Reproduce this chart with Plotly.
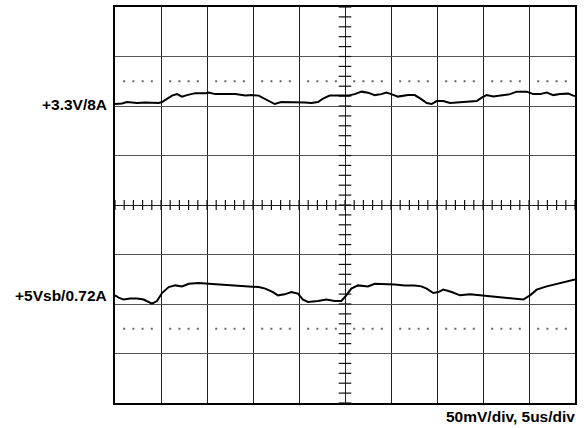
import numpy as np
import plotly.graph_objects as go

# Screen units: divisions (x: 5 us/div, y: 50 mV/div)
ch1_label = "+3.3V/8A"
ch1_x = [0.0, 0.152, 0.261, 0.370, 0.478, 0.659, 0.804, 0.950, 1.022, 1.130, 1.239, 1.348,
         1.457, 1.565, 1.746, 1.963, 2.037, 2.180, 2.398, 2.615, 2.833, 2.978, 3.124, 3.267,
         3.376, 3.472, 3.615, 3.761, 3.978, 4.124, 4.267, 4.413, 4.522, 4.667, 4.848, 5.065,
         5.211, 5.359, 5.500, 5.646, 5.789, 5.898, 6.007, 6.152, 6.370, 6.515, 6.659, 6.776,
         6.885, 6.993, 7.137, 7.283, 7.428, 7.646, 7.863, 7.972, 8.080, 8.224, 8.441, 8.587,
         8.733, 8.950, 9.093, 9.239, 9.385, 9.528, 9.674, 9.854, 9.963, 10.0]
ch1_y = [2.04, 2.05, 2.08, 2.07, 2.06, 2.07, 2.07, 2.06, 2.08, 2.14, 2.21, 2.24,
         2.19, 2.22, 2.26, 2.26, 2.27, 2.24, 2.24, 2.24, 2.21, 2.22, 2.21, 2.14,
         2.07, 2.04, 2.08, 2.08, 2.08, 2.07, 2.06, 2.08, 2.15, 2.21, 2.21, 2.21,
         2.24, 2.29, 2.27, 2.22, 2.24, 2.27, 2.24, 2.19, 2.22, 2.22, 2.14, 2.06,
         2.04, 2.10, 2.10, 2.06, 2.07, 2.08, 2.10, 2.17, 2.22, 2.19, 2.22, 2.24,
         2.29, 2.29, 2.24, 2.24, 2.27, 2.22, 2.24, 2.25, 2.21, 2.20]

ch2_label = "+5Vsb/0.72A"
ch2_x = [0.0, 0.080, 0.189, 0.333, 0.478, 0.624, 0.804, 0.913, 1.022, 1.167, 1.311, 1.457,
         1.602, 1.820, 2.037, 2.254, 2.472, 2.689, 2.907, 3.124, 3.267, 3.376, 3.435, 3.543,
         3.689, 3.833, 3.978, 4.087, 4.196, 4.413, 4.593, 4.776, 4.920, 5.028, 5.137, 5.283,
         5.500, 5.646, 5.863, 6.080, 6.298, 6.515, 6.659, 6.776, 6.920, 7.028, 7.137, 7.320,
         7.500, 7.717, 7.935, 8.152, 8.370, 8.587, 8.876, 9.022, 9.167, 9.385, 9.602, 9.820,
         9.963, 10.0]
ch2_y = [-1.825, -1.871, -1.911, -1.891, -1.891, -1.911, -1.992, -1.940, -1.779, -1.658, -1.624, -1.644,
         -1.590, -1.577, -1.590, -1.604, -1.624, -1.644, -1.658, -1.658, -1.690, -1.738, -1.759, -1.825,
         -1.805, -1.759, -1.791, -1.911, -1.960, -1.940, -1.911, -1.940, -1.940, -1.825, -1.690, -1.624,
         -1.644, -1.590, -1.590, -1.604, -1.624, -1.624, -1.644, -1.690, -1.779, -1.759, -1.710, -1.759,
         -1.825, -1.805, -1.825, -1.845, -1.871, -1.891, -1.911, -1.825, -1.710, -1.644, -1.590, -1.537,
         -1.509, -1.505]

ref_levels = [2.5, -2.5]          # dotted reference levels
scale_text = "50mV/div, 5us/div"

N_X_DIV, N_Y_DIV = 10, 8

fig = go.Figure()

# dotted reference lines (4 dots per division)
for lv in ref_levels:
    dx = np.array([i + f for i in range(N_X_DIV) for f in (0.2, 0.4, 0.6, 0.8)])
    fig.add_trace(go.Scatter(x=dx, y=np.full(dx.shape, lv), mode="markers",
                             marker=dict(symbol="square", size=2, color="#666666"),
                             hoverinfo="skip", showlegend=False))

# center-axis minor ticks
hx = np.arange(0, N_X_DIV + 0.001, 0.2)
fig.add_trace(go.Scatter(x=hx, y=np.zeros_like(hx), mode="markers",
                         marker=dict(symbol="line-ns", size=7, line=dict(width=1.2, color="#111")),
                         hoverinfo="skip", showlegend=False))
vy = np.arange(-N_Y_DIV / 2, N_Y_DIV / 2 + 0.001, 0.2)
fig.add_trace(go.Scatter(x=np.full(vy.shape, N_X_DIV / 2), y=vy, mode="markers",
                         marker=dict(symbol="line-ew", size=9, line=dict(width=1.2, color="#111")),
                         hoverinfo="skip", showlegend=False))

# waveforms
fig.add_trace(go.Scatter(x=ch1_x, y=ch1_y, mode="lines", name=ch1_label,
                         line=dict(color="black", width=2), showlegend=False))
fig.add_trace(go.Scatter(x=ch2_x, y=ch2_y, mode="lines", name=ch2_label,
                         line=dict(color="black", width=2), showlegend=False))

lab_font = dict(family="Liberation Sans, Arial, sans-serif", size=15.5, color="black")
fig.add_annotation(x=0, xref="paper", y=ch1_y[0], yref="y", text="<b>%s</b>" % ch1_label,
                   showarrow=False, xanchor="right", yanchor="middle", xshift=-6, font=lab_font)
fig.add_annotation(x=0, xref="paper", y=ch2_y[0], yref="y", text="<b>%s</b>" % ch2_label,
                   showarrow=False, xanchor="right", yanchor="middle", xshift=-6, font=lab_font)
fig.add_annotation(x=1, xref="paper", y=-0.034, yref="paper", text="<b>%s</b>" % scale_text,
                   showarrow=False, xanchor="right", yanchor="middle", xshift=2, font=lab_font)

fig.update_xaxes(range=[0, N_X_DIV], dtick=1, showgrid=True, gridcolor="#222222", gridwidth=1.2,
                 zeroline=False, showticklabels=False, ticks="",
                 showline=True, mirror=True, linecolor="black", linewidth=1.5)
fig.update_yaxes(range=[-N_Y_DIV / 2, N_Y_DIV / 2], dtick=1, showgrid=True, gridcolor="#555555",
                 gridwidth=1, zeroline=True, zerolinecolor="#222222", zerolinewidth=1.2,
                 showticklabels=False, ticks="",
                 showline=True, mirror=True, linecolor="black", linewidth=1.5)

fig.update_layout(width=585, height=428, margin=dict(l=115, r=10, t=5, b=25),
                  paper_bgcolor="white", plot_bgcolor="white")

fig.write_html("out.html")
